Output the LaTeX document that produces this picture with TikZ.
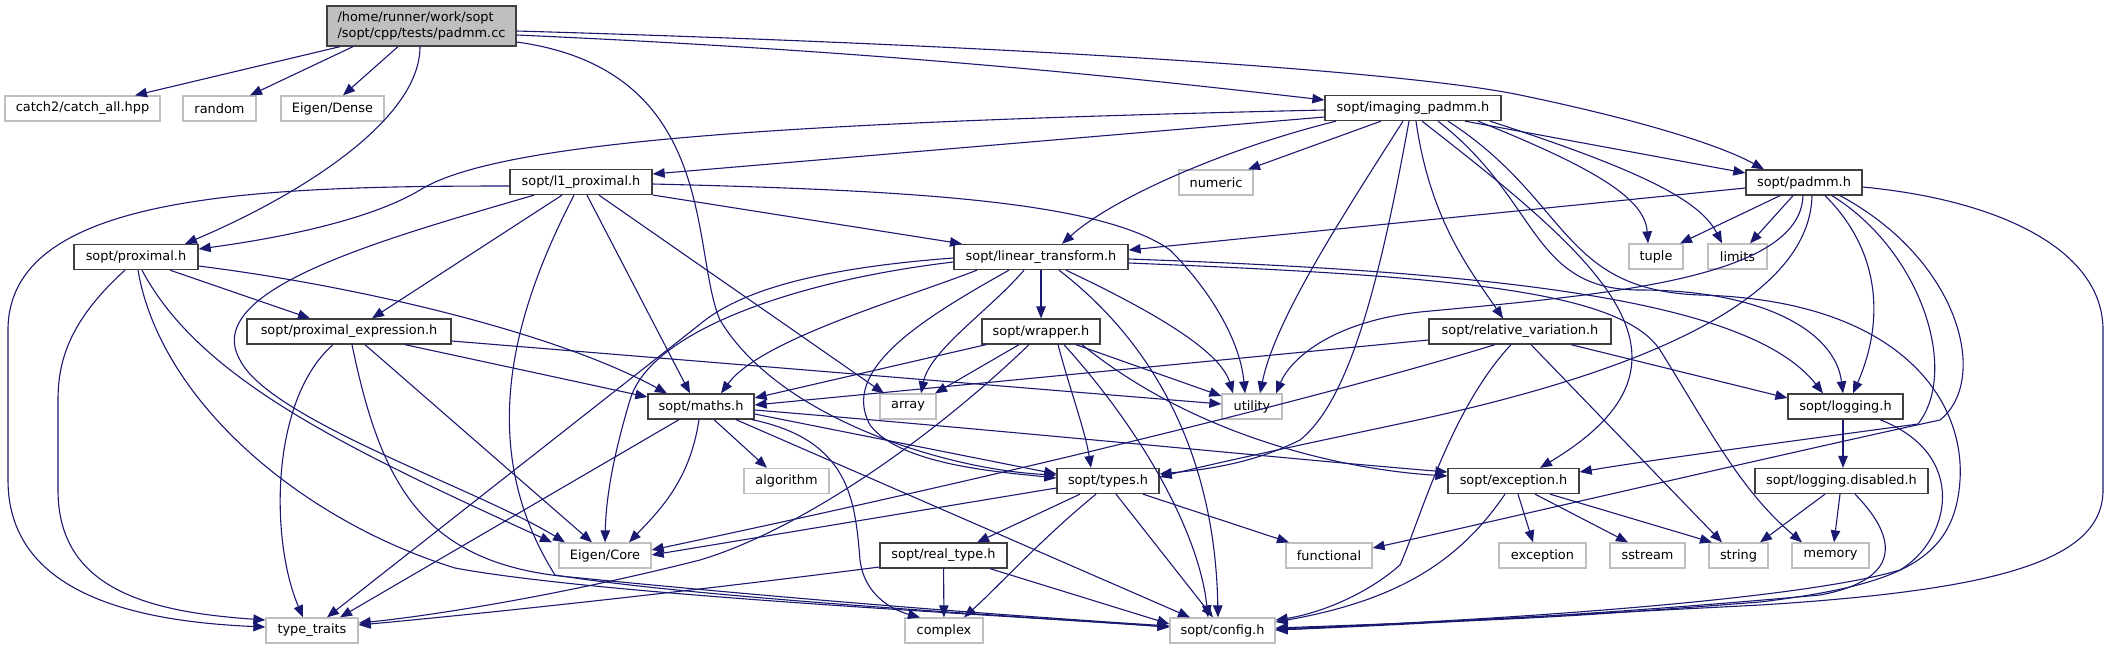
\documentclass[tikz,border=0pt]{standalone}
\usepackage{fontspec}
\setmainfont{DejaVu Sans}
\usetikzlibrary{arrows.meta}
\definecolor{edgec}{HTML}{191970}
\definecolor{dborder}{HTML}{404040}
\definecolor{lborder}{HTML}{BFBFBF}
\definecolor{rootfill}{HTML}{BFBFBF}
\tikzset{
  box/.style={rectangle, draw, line width=1.3pt, fill=white, minimum height=25pt, inner xsep=2pt, inner ysep=0pt, font=\fontsize{12.9}{15.5}\selectfont, text=black},
  doc/.style={box, draw=dborder},
  ext/.style={box, draw=lborder},
  dep/.style={draw=edgec, line width=1.1pt, -{Triangle[length=12pt,width=9.5pt]}},
}
\begin{document}
\begin{tikzpicture}[x=1pt,y=-1pt]
\useasboundingbox (0,0) rectangle (2109,649);
% nodes
\node[doc, fill=rootfill, minimum width=189pt, minimum height=40pt, align=left] (root) at (421.5,26) {/home/runner/work/sopt\\/sopt/cpp/tests/padmm.cc};
\node[ext, minimum width=155pt] (catch) at (82.5,108.5) {catch2/catch\_all.hpp};
\node[ext, minimum width=73pt] (random) at (219.5,108.5) {random};
\node[ext, minimum width=103pt] (dense) at (332.5,108.5) {Eigen/Dense};
\node[doc, minimum width=176pt] (imaging) at (1413,108) {sopt/imaging\_padmm.h};
\node[doc, minimum width=142pt] (l1) at (581,182) {sopt/l1\_proximal.h};
\node[ext, minimum width=74pt] (numeric) at (1216,182.5) {numeric};
\node[doc, minimum width=116pt] (padmm) at (1804,182.5) {sopt/padmm.h};
\node[doc, minimum width=124pt] (proximal) at (136,257) {sopt/proximal.h};
\node[doc, minimum width=174pt] (lt) at (1041,257) {sopt/linear\_transform.h};
\node[ext, minimum width=54pt] (tuple) at (1656,256.5) {tuple};
\node[ext, minimum width=59pt] (limits) at (1737.5,256.5) {limits};
\node[doc, minimum width=204pt] (pexpr) at (349,331.5) {sopt/proximal\_expression.h};
\node[doc, minimum width=118pt] (wrapper) at (1041,331.5) {sopt/wrapper.h};
\node[doc, minimum width=182pt] (rv) at (1520,331.5) {sopt/relative\_variation.h};
\node[doc, minimum width=106pt] (maths) at (701,406.5) {sopt/maths.h};
\node[ext, minimum width=56pt] (array) at (908,406.5) {array};
\node[ext, minimum width=60pt] (utility) at (1252,406.5) {utility};
\node[doc, minimum width=115pt] (logging) at (1845.5,406.5) {sopt/logging.h};
\node[ext, minimum width=85pt] (algorithm) at (786.5,481) {algorithm};
\node[doc, minimum width=102pt] (types) at (1108,481) {sopt/types.h};
\node[doc, minimum width=131pt] (exch) at (1513.5,481) {sopt/exception.h};
\node[doc, minimum width=173pt] (logdis) at (1841.5,481) {sopt/logging.disabled.h};
\node[ext, minimum width=92pt] (core) at (605,555.5) {Eigen/Core};
\node[doc, minimum width=127pt] (realt) at (943.5,555.5) {sopt/real\_type.h};
\node[ext, minimum width=86pt] (functional) at (1329,555.5) {functional};
\node[ext, minimum width=87pt] (excp) at (1542.5,555.5) {exception};
\node[ext, minimum width=75pt] (sstream) at (1647.5,555.5) {sstream};
\node[ext, minimum width=59pt] (string) at (1738.5,555.5) {string};
\node[ext, minimum width=77pt] (memory) at (1830.5,555.5) {memory};
\node[ext, minimum width=92pt] (ttraits) at (312,630.5) {type\_traits};
\node[ext, minimum width=78pt] (complex) at (944,630.5) {complex};
\node[ext, minimum width=105pt] (config) at (1222.5,630.5) {sopt/config.h};
% root edges
\draw[dep] (root.south -| 340,0) -- (catch.north -| 135,0);
\draw[dep] (root.south -| 353,0) -- (random.north -| 250,0);
\draw[dep] (root.south -| 398,0) -- (dense.north -| 343,0);
\draw[dep] (root.south -| 420,0) .. controls (420,120) and (300,195) .. (proximal.north -| 185,0);
\draw[dep] (root.east |- 0,35) .. controls (900,52) and (1150,80) .. (imaging.west |- 0,100);
\draw[dep] (root.east |- 0,31) .. controls (1000,45) and (1400,70) .. (1520,95) .. controls (1640,120) and (1720,145) .. (padmm.north -| 1764,0);
\draw[dep] (root.east |- 0,42) .. controls (720,70) and (690,250) .. (720,320) .. controls (780,420) and (950,470) .. (types.west |- 0,475);
% imaging edges
\draw[dep] (imaging.west |- 0,110) .. controls (800,122) and (500,140) .. (420,190) .. controls (370,220) and (280,238) .. (proximal.east |- 0,249);
\draw[dep] (imaging.west |- 0,117) -- (l1.east |- 0,174);
\draw[dep] (imaging.south -| 1381,0) -- (numeric.north -| 1248,0);
\draw[dep] (imaging.south -| 1336,0) .. controls (1220,150) and (1110,200) .. (lt.north -| 1062,0);
\draw[dep] (imaging.south -| 1403,0) .. controls (1340,220) and (1275,320) .. (utility.north -| 1260,0);
\draw[dep] (imaging.south -| 1409,0) .. controls (1380,280) and (1350,400) .. (1300,440) .. controls (1250,465) and (1200,470) .. (types.east |- 0,474);
\draw[dep] (imaging.south -| 1416,0) .. controls (1430,220) and (1470,270) .. (rv.north -| 1503,0);
\draw[dep] (imaging.south -| 1422,0) .. controls (1600,260) and (1720,360) .. (exch.north -| 1540,0);
\draw[dep] (imaging.south -| 1438,0) .. controls (1540,200) and (1530,290) .. (1640,290) .. controls (1760,290) and (1835,330) .. (logging.north -| 1843,0);
\draw[dep] (imaging.south -| 1448,0) .. controls (1570,200) and (1560,290) .. (1700,295) .. controls (1900,300) and (1965,400) .. (1960,480) .. controls (1955,560) and (1900,585) .. (1760,602) .. controls (1550,618) .. (config.east |- 0,628);
\draw[dep] (imaging.south -| 1478,0) .. controls (1600,170) and (1645,200) .. (tuple.north -| 1648,0);
\draw[dep] (imaging.south -| 1490,0) .. controls (1640,170) and (1700,200) .. (limits.north -| 1722,0);
\draw[dep] (imaging.south -| 1465,0) -- (padmm.west |- 0,173);
% padmm edges
\draw[dep] (padmm.west |- 0,188) -- (lt.east |- 0,250);
\draw[dep] (padmm.south -| 1780,0) -- (tuple.north -| 1680,0);
\draw[dep] (padmm.south -| 1793,0) -- (limits.north -| 1750,0);
\draw[dep] (padmm.south -| 1803,0) .. controls (1800,280) and (1600,295) .. (1420,312) .. controls (1330,322) and (1290,360) .. (utility.north -| 1276,0);
\draw[dep] (padmm.south -| 1812,0) .. controls (1810,280) and (1700,360) .. (1408,422) .. controls (1300,445) and (1220,462) .. (types.east |- 0,477);
\draw[dep] (padmm.south -| 1825,0) .. controls (1880,250) and (1885,320) .. (logging.north -| 1853,0);
\draw[dep] (padmm.south -| 1832,0) .. controls (1920,250) and (1960,370) .. (1918,424) .. controls (1800,440) and (1650,460) .. (exch.east |- 0,472);
\draw[dep] (padmm.south -| 1840,0) .. controls (1960,260) and (1990,380) .. (1940,420) .. controls (1800,450) and (1500,520) .. (functional.east |- 0,548);
\draw[dep] (padmm.east |- 0,187) .. controls (2000,200) and (2103,250) .. (2103,330) -- (2103,490) .. controls (2103,560) and (2000,590) .. (1760,605) -- (config.east |- 0,630);
% linear_transform edges
\draw[dep] (lt) -- (wrapper);
\draw[dep] (lt.west |- 0,258) .. controls (820,268) and (740,290) .. (699,325) -- (ttraits.north -| 327,0);
\draw[dep] (lt.south -| 977,0) .. controls (900,300) and (760,340) .. (maths.north -| 721,0);
\draw[dep] (lt.west |- 0,262) .. controls (800,280) and (650,330) .. (630,400) .. controls (612,460) and (606,500) .. (core.north -| 605,0);
\draw[dep] (lt.south -| 1024,0) .. controls (990,310) and (930,350) .. (array.north -| 921,0);
\draw[dep] (lt.south -| 1009,0) .. controls (920,320) and (840,370) .. (870,425) .. controls (900,465) and (1000,472) .. (types.west |- 0,478);
\draw[dep] (lt.south -| 1066,0) .. controls (1150,310) and (1220,350) .. (utility.north -| 1233,0);
\draw[dep] (lt.south -| 1059,0) .. controls (1150,340) and (1215,450) .. (config.north -| 1218,0);
\draw[dep] (lt.east |- 0,259) .. controls (1500,272) and (1750,300) .. (logging.north -| 1823,0);
\draw[dep] (lt.east |- 0,263) .. controls (1450,276) and (1620,290) .. (1660,350) .. controls (1710,430) and (1740,490) .. (memory.north -| 1802,0);
% l1 edges
\draw[dep] (l1.west |- 0,186) .. controls (250,186) and (8,195) .. (8,330) -- (8,480) .. controls (8,600) and (150,622) .. (ttraits.west |- 0,627);
\draw[dep] (l1.south -| 562,0) -- (pexpr.north -| 372,0);
\draw[dep] (l1.south -| 534,0) .. controls (380,240) and (200,290) .. (240,360) .. controls (270,420) and (480,490) .. (core.north -| 565,0);
\draw[dep] (l1.south -| 574,0) .. controls (520,300) and (470,440) .. (555,575) .. controls (700,598) and (1000,615) .. (config.west |- 0,627);
\draw[dep] (l1.south -| 587,0) -- (maths.north -| 690,0);
\draw[dep] (l1.south -| 599,0) -- (array.north -| 884,0);
\draw[dep] (l1.east |- 0,195) -- (lt.north -| 962,0);
\draw[dep] (l1.east |- 0,184) .. controls (900,190) and (1100,200) .. (1170,250) .. controls (1210,290) and (1240,340) .. (utility.north -| 1245,0);
% proximal edges
\draw[dep] (proximal.south -| 170,0) -- (pexpr.north -| 310,0);
\draw[dep] (proximal.east |- 0,266) .. controls (350,285) and (550,330) .. (maths.north -| 667,0);
\draw[dep] (proximal.south -| 125,0) .. controls (70,320) and (58,360) .. (58,400) -- (58,490) .. controls (58,590) and (150,612) .. (ttraits.west |- 0,620);
\draw[dep] (proximal.south -| 142,0) .. controls (200,380) and (350,450) .. (core.north -| 552,0);
\draw[dep] (proximal.south -| 138,0) .. controls (160,400) and (300,520) .. (455,568) .. controls (600,595) and (1000,615) .. (config.west |- 0,627);
% proximal_expression edges
\draw[dep] (pexpr.south -| 405,0) -- (maths.west |- 0,397);
\draw[dep] (pexpr.east |- 0,341) -- (utility.west |- 0,404);
\draw[dep] (pexpr.south -| 333,0) .. controls (270,400) and (270,540) .. (ttraits.north -| 303,0);
\draw[dep] (pexpr.south -| 365,0) -- (core.north -| 592,0);
\draw[dep] (pexpr.south -| 352,0) .. controls (380,480) and (420,560) .. (560,576) .. controls (800,600) and (1000,615) .. (config.west |- 0,626);
% wrapper edges
\draw[dep] (wrapper.south -| 986,0) -- (maths.east |- 0,398);
\draw[dep] (wrapper.south -| 1019,0) -- (array.north -| 935,0);
\draw[dep] (wrapper.south -| 1076,0) -- (utility.west |- 0,396);
\draw[dep] (wrapper.south -| 1058,0) .. controls (1070,390) and (1085,430) .. (types.north -| 1091,0);
\draw[dep] (wrapper.south -| 1064,0) .. controls (1150,440) and (1200,540) .. (config.north -| 1208,0);
\draw[dep] (wrapper.south -| 1082,0) .. controls (1200,440) and (1350,470) .. (exch.west |- 0,476);
\draw[dep] (wrapper.south -| 1029,0) .. controls (930,440) and (800,530) .. (700,560) .. controls (550,598) and (420,617) .. (ttraits.east |- 0,623);
% relative_variation edges
\draw[dep] (rv.west |- 0,340) -- (maths.east |- 0,405);
\draw[dep] (rv.south -| 1495,0) .. controls (1380,380) and (1100,455) .. (core.east |- 0,550);
\draw[dep] (rv.south -| 1511,0) .. controls (1450,410) and (1420,520) .. (1400,565) .. controls (1360,600) and (1310,615) .. (config.east |- 0,620);
\draw[dep] (rv.south -| 1531,0) -- (string.north -| 1722,0);
\draw[dep] (rv.south -| 1571,0) -- (logging.west |- 0,398);
% maths edges
\draw[dep] (maths.south -| 714,0) -- (algorithm.north -| 767,0);
\draw[dep] (maths.south -| 699,0) .. controls (690,480) and (660,510) .. (core.north -| 629,0);
\draw[dep] (maths.south -| 679,0) -- (ttraits.north -| 340,0);
\draw[dep] (maths.south -| 736,0) -- (config.north -| 1190,0);
\draw[dep] (maths.south -| 752,0) .. controls (850,440) and (855,500) .. (860,560) .. controls (865,600) and (900,612) .. (complex.north -| 920,0);
\draw[dep] (maths.east |- 0,414) -- (types.west |- 0,474);
\draw[dep] (maths.east |- 0,410) .. controls (1000,430) and (1300,460) .. (exch.west |- 0,472);
% types edges
\draw[dep] (types.west |- 0,488) -- (core.east |- 0,555);
\draw[dep] (types.south -| 1080,0) -- (realt.north -| 977,0);
\draw[dep] (types.south -| 1096,0) .. controls (1040,540) and (1000,585) .. (complex.north -| 964,0);
\draw[dep] (types.south -| 1116,0) -- (config.north -| 1213,0);
\draw[dep] (types.south -| 1143,0) -- (functional.north -| 1289,0);
% real_type edges
\draw[dep] (realt.west |- 0,567) .. controls (700,590) and (500,612) .. (ttraits.east |- 0,625);
\draw[dep] (realt) -- (complex);
\draw[dep] (realt.south -| 990,0) -- (config.west |- 0,624);
% exception.h edges
\draw[dep] (exch.south -| 1518,0) -- (excp.north -| 1533,0);
\draw[dep] (exch.south -| 1535,0) -- (sstream.north -| 1628,0);
\draw[dep] (exch.south -| 1550,0) -- (string.north -| 1712,0);
\draw[dep] (exch.south -| 1505,0) .. controls (1460,560) and (1400,600) .. (config.east |- 0,622);
% logging edges
\draw[dep] (logging.south -| 1843,0) -- (logdis.north -| 1843,0);
\draw[dep] (logging.south -| 1880,0) .. controls (1970,455) and (1950,540) .. (1900,570) .. controls (1800,600) and (1500,620) .. (config.east |- 0,629);
% logging.disabled edges
\draw[dep] (logdis.south -| 1825,0) -- (string.north -| 1760,0);
\draw[dep] (logdis.south -| 1840,0) -- (memory.north -| 1834,0);
\draw[dep] (logdis.south -| 1855,0) .. controls (1900,540) and (1900,580) .. (1820,595) .. controls (1600,615) and (1400,625) .. (config.east |- 0,630);
\end{tikzpicture}
\end{document}
